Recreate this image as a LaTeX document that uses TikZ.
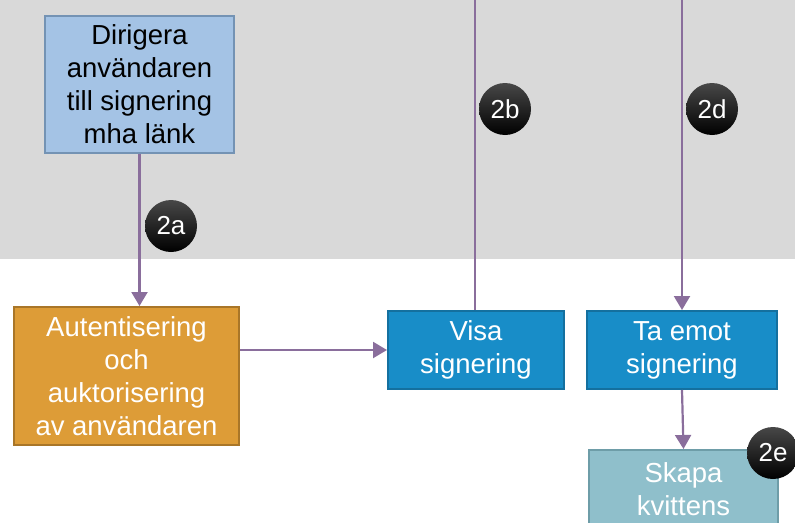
\documentclass[tikz,border=0pt]{standalone}
\usepackage{fontspec}
\setmainfont{Liberation Sans}
\usetikzlibrary{arrows.meta}
\definecolor{band}{HTML}{D9D9D9}
\definecolor{wire}{HTML}{8A6E9C}
\definecolor{dir fill}{HTML}{A4C3E5}
\definecolor{dir line}{HTML}{7493B4}
\definecolor{auth fill}{HTML}{DD9C37}
\definecolor{auth line}{HTML}{A97628}
\definecolor{step fill}{HTML}{188DC8}
\definecolor{step line}{HTML}{14709F}
\definecolor{receipt fill}{HTML}{8FBFCB}
\definecolor{receipt line}{HTML}{6E9DA8}

\begin{document}
\begin{tikzpicture}[x=1pt,y=-1pt]

\def\boxh{78pt}

\tikzset{
    every node/.style={font=\fontsize{27.5}{33}\selectfont, align=center, inner sep=0pt},
    line/.style={draw=wire, line width=2.2pt},
    wire/.style={line, ->, >={Triangle[length=14pt,width=16pt]}},
    step box/.style={draw=step line, fill=step fill, line width=2pt, minimum height=\boxh, text=white},
    badge/.style={circle, minimum size=52pt, top color=black!72, bottom color=black, text=white, font=\fontsize{26}{26}\selectfont}
}

\clip (0,0) rectangle (795,522);
\fill[band] (0,0) rectangle (795,259);

\node[step box, fill=dir fill, draw=dir line, text=black, minimum width=189pt, minimum height=137pt] (DIRIGERA) at (139.5,84.5) {Dirigera\\anv\"andaren\\till signering\\mha l\"ank};
\node[step box, fill=auth fill, draw=auth line, minimum width=225pt, minimum height=138pt] (AUTH) at (126.5,376) {Autentisering\\och\\auktorisering\\av anv\"andaren};
\node[step box, minimum width=176pt] (VISA) at (476,350) {Visa\\signering};
\node[step box, minimum width=190pt] (TA EMOT) at (682,350) {Ta emot\\signering};
\node[step box, fill=receipt fill, draw=receipt line, minimum width=189pt] (SKAPA) at (683.5,489) {Skapa\\kvittens};

% connectors
\coordinate (visa up) at (475,0);
\coordinate (ta up) at (682,0);
\path[wire] (DIRIGERA.south) -- (DIRIGERA.south |- AUTH.north);
\path[wire] (AUTH.east |- VISA.west) -- (VISA.west);
\path[line] (VISA.north -| visa up) -- (visa up);
\path[wire] (ta up) -- (TA EMOT.north);
\path[wire] (TA EMOT.south) -- (SKAPA.north);

% step labels
\node[badge] (2a) at (171,226) {2a};
\node[badge] (2b) at (505,109) {2b};
\node[badge] (2d) at (712,109) {2d};
\node[badge] (2e) at (773,453) {2e};
\end{tikzpicture}
\end{document}
